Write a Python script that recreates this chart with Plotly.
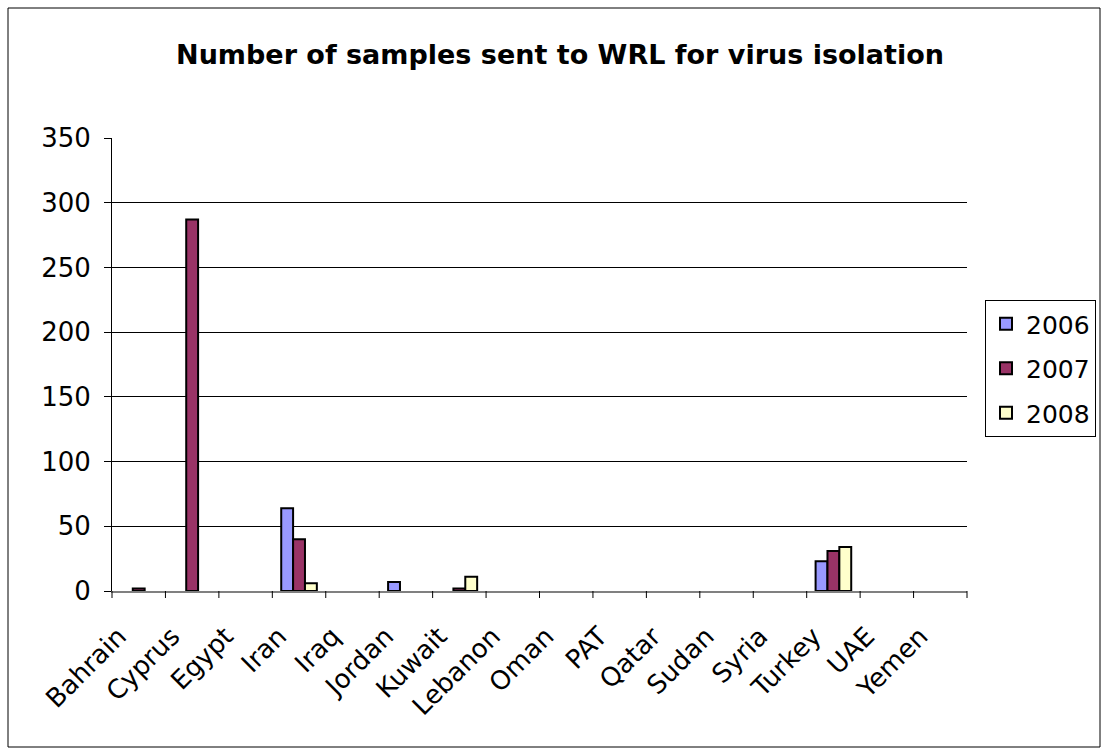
import plotly.graph_objects as go

countries = ["Bahrain", "Cyprus", "Egypt", "Iran", "Iraq", "Jordan", "Kuwait", "Lebanon",
             "Oman", "PAT", "Qatar", "Sudan", "Syria", "Turkey", "UAE", "Yemen"]
y2006 = [0, 0, 0, 64, 0, 7, 0, 0, 0, 0, 0, 0, 0, 23, 0, 0]
y2007 = [2, 287, 0, 40, 0, 0, 2, 0, 0, 0, 0, 0, 0, 31, 0, 0]
y2008 = [0, 0, 0, 6, 0, 0, 11, 0, 0, 0, 0, 0, 0, 34, 0, 0]
years = ["2006", "2007", "2008"]
colors = ["#9999FF", "#993366", "#FFFFCC"]

W, H = 1102, 749
L, R, T, B = 112, 135, 138, 158
pw, ph = W - L - R, H - T - B
FONT = "DejaVu Sans"
n = len(countries)

fig = go.Figure()
for name, vals, c in zip(years, [y2006, y2007, y2008], colors):
    fig.add_trace(go.Bar(x=countries, y=[v if v else None for v in vals], name=name,
                         legendgroup=name,
                         marker=dict(color=c, line=dict(color="black", width=2))))

# category-boundary tick marks below the x axis
tick_shapes = [dict(type="line", xref="paper", yref="paper", x0=i / n, x1=i / n,
                    y0=0, y1=-7 / ph, line=dict(color="black", width=1))
               for i in range(n + 1)]
border = dict(type="rect", xref="paper", yref="paper",
              x0=(8 - L)/pw, x1=(1100 - L)/pw, y0=(H - B - 747)/ph, y1=(H - B - 8)/ph,
              line=dict(color="black", width=1))

fig.update_layout(
    width=W, height=H,
    margin=dict(l=L, r=R, t=T, b=B, autoexpand=False),
    paper_bgcolor="white", plot_bgcolor="white",
    barmode="group", bargap=1.5/4.5, bargroupgap=0,
    font=dict(family=FONT, color="black", size=26),
    title=dict(text="<b>Number of samples sent to WRL for virus isolation</b>",
               x=560/W, xanchor="center", y=1 - 55/H, yanchor="middle",
               font=dict(size=27)),
    xaxis=dict(showline=True, linecolor="#808080", linewidth=1.5, ticks="",
               tickangle=-45, showgrid=False, fixedrange=True, range=[-0.5, n - 0.5],
               tickfont=dict(size=26), ticklabelstandoff=18, ticklabelshift=-20),
    yaxis=dict(range=[0, 350], dtick=50, showline=True, linecolor="black", linewidth=1,
               ticks="outside", ticklen=7, tickcolor="black", showgrid=True, gridcolor="black",
               gridwidth=1, zeroline=False, tickfont=dict(size=26), ticklabelstandoff=8),
    legend=dict(x=(985 - L)/pw, xanchor="left", y=(H - B - 300)/ph, yanchor="top",
                bordercolor="black", borderwidth=1, font=dict(size=25), tracegroupgap=9,
                traceorder="grouped", itemwidth=30),
    shapes=tick_shapes + [border],
)
fig.write_html("out.html", config={"displayModeBar": False},
               post_script="document.body.style.margin='0px';document.body.style.overflow='hidden';")
